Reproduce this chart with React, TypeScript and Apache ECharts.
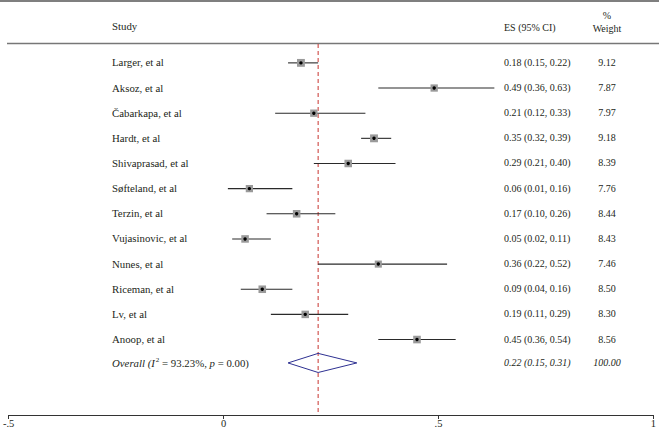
import React, { useEffect, useRef } from "react";
import * as echarts from "echarts";

const STUDIES = [
  "Larger, et al",
  "Aksoz, et al",
  "Čabarkapa, et al",
  "Hardt, et al",
  "Shivaprasad, et al",
  "Søfteland, et al",
  "Terzin, et al",
  "Vujasinovic, et al",
  "Nunes, et al",
  "Riceman, et al",
  "Lv, et al",
  "Anoop, et al",
];
const ES = [0.18, 0.49, 0.21, 0.35, 0.29, 0.06, 0.17, 0.05, 0.36, 0.09, 0.19, 0.45];
const LOW = [0.15, 0.36, 0.12, 0.32, 0.21, 0.01, 0.1, 0.02, 0.22, 0.04, 0.11, 0.36];
const HIGH = [0.22, 0.63, 0.33, 0.39, 0.4, 0.16, 0.26, 0.11, 0.52, 0.16, 0.29, 0.54];
const WEIGHT = [9.12, 7.87, 7.97, 9.18, 8.39, 7.76, 8.44, 8.43, 7.46, 8.5, 8.3, 8.56];

const OVERALL_ES = 0.22;
const OVERALL_LOW = 0.15;
const OVERALL_HIGH = 0.31;
const OVERALL_WEIGHT = "100.00";
const I2 = "93.23%";
const P_VALUE = "0.00";

const TICK_VALUES = [-0.5, 0, 0.5, 1];
const TICK_LABELS = ["-.5", "0", ".5", "1"];

const FONT = "'Liberation Serif', 'DejaVu Serif', serif";
const TEXT_COLOR = "#231f20";
const FS = 10;
const FS_NAME = 10.8;
const X_STUDY = 112;
const X_ES = 504;
const X_W = 607;
const OVERALL_ROW = 11.93;

const fmt = (v: number) => v.toFixed(2);

export default function App() {
  const ref = useRef<HTMLDivElement>(null);
  useEffect(() => {
    if (!ref.current) return;
    const chart = echarts.init(ref.current, null, { renderer: "svg" });
    const rows = ES.map((e, i) => [e, LOW[i], HIGH[i], WEIGHT[i], i]);
    const option: any = {
      animation: false,
      grid: { left: 7, right: 2, top: 0, bottom: 15, containLabel: false },
      xAxis: {
        type: "value",
        min: -0.5,
        max: 1,
        interval: 0.5,
        splitLine: { show: false },
        axisLine: { show: true, onZero: false, lineStyle: { color: "#333", width: 1 } },
        axisTick: { show: true, length: 4, lineStyle: { color: "#333" } },
        axisLabel: {
          fontFamily: FONT,
          fontSize: 10.5,
          color: TEXT_COLOR,
          margin: 3,
          formatter: (v: number) => {
            const k = TICK_VALUES.findIndex((t) => Math.abs(t - v) < 1e-9);
            return k >= 0 ? TICK_LABELS[k] : "";
          },
        },
      },
      yAxis: {
        type: "value",
        inverse: true,
        min: -2.5,
        max: 14,
        show: false,
      },
      graphic: [
        { type: "line", shape: { x1: 0, y1: 1, x2: 659, y2: 1 }, style: { stroke: "#555", lineWidth: 1.5 } },
        { type: "line", shape: { x1: 7, y1: 43.5, x2: 659, y2: 43.5 }, style: { stroke: "#777", lineWidth: 1.5 } },
        { type: "text", x: X_STUDY, y: 26, style: { text: "Study", font: `${FS_NAME}px ${FONT}`, fill: TEXT_COLOR, textVerticalAlign: "middle" } },
        { type: "text", x: X_ES, y: 27, style: { text: "ES (95% CI)", font: `${FS}px ${FONT}`, fill: TEXT_COLOR, textVerticalAlign: "middle" } },
        { type: "text", x: X_W, y: 15, style: { text: "%", font: `${FS}px ${FONT}`, fill: TEXT_COLOR, textAlign: "center", textVerticalAlign: "middle" } },
        { type: "text", x: X_W, y: 28, style: { text: "Weight", font: `${FS}px ${FONT}`, fill: TEXT_COLOR, textAlign: "center", textVerticalAlign: "middle" } },
      ],
      series: [
        {
          type: "custom",
          data: [[OVERALL_ES, -0.75, 14]],
          encode: { x: 0, y: [1, 2] },
          silent: true,
          z: 1,
          renderItem: (params: any, api: any) => {
            const a = api.coord([api.value(0), api.value(1)]);
            const b = api.coord([api.value(0), api.value(2)]);
            return {
              type: "line",
              shape: { x1: a[0], y1: a[1], x2: b[0], y2: b[1] },
              style: { stroke: "#c8332f", lineWidth: 1, lineDash: [4, 3] },
            };
          },
        },
        {
          type: "custom",
          data: rows,
          encode: { x: [0, 1, 2], y: 4 },
          silent: true,
          z: 2,
          renderItem: (params: any, api: any) => {
            const i = params.dataIndex;
            const r = api.value(4);
            const pe = api.coord([api.value(0), r]);
            const pl = api.coord([api.value(1), r]);
            const ph = api.coord([api.value(2), r]);
            const s = 2.6 * Math.sqrt(api.value(3));
            return {
              type: "group",
              children: [
                { type: "line", shape: { x1: pl[0], y1: pl[1], x2: ph[0], y2: ph[1] }, style: { stroke: "#2a2a2a", lineWidth: 1.1 } },
                { type: "rect", shape: { x: pe[0] - s / 2, y: pe[1] - s / 2, width: s, height: s }, style: { fill: "#9a9a9a" } },
                { type: "circle", shape: { cx: pe[0], cy: pe[1], r: 1.7 }, style: { fill: "#000" } },
                { type: "text", x: X_STUDY, y: pe[1] - 0.5, style: { text: STUDIES[i], font: `${FS_NAME}px ${FONT}`, fill: TEXT_COLOR, textVerticalAlign: "middle" } },
                { type: "text", x: X_ES, y: pe[1] - 0.5, style: { text: `${fmt(ES[i])} (${fmt(LOW[i])}, ${fmt(HIGH[i])})`, font: `${FS}px ${FONT}`, fill: TEXT_COLOR, textVerticalAlign: "middle" } },
                { type: "text", x: X_W, y: pe[1] - 0.5, style: { text: fmt(WEIGHT[i]), font: `${FS}px ${FONT}`, fill: TEXT_COLOR, textAlign: "center", textVerticalAlign: "middle" } },
              ],
            };
          },
        },
        {
          type: "custom",
          data: [[OVERALL_ES, OVERALL_LOW, OVERALL_HIGH, OVERALL_ROW]],
          encode: { x: [0, 1, 2], y: 3 },
          silent: true,
          z: 3,
          renderItem: (params: any, api: any) => {
            const r = api.value(3);
            const c = api.coord([api.value(0), r]);
            const l = api.coord([api.value(1), r]);
            const h = api.coord([api.value(2), r]);
            const top = api.coord([api.value(0), r - 0.38]);
            const bot = api.coord([api.value(0), r + 0.38]);
            return {
              type: "group",
              children: [
                {
                  type: "polygon",
                  shape: { points: [[l[0], l[1]], [top[0], top[1]], [h[0], h[1]], [bot[0], bot[1]]] },
                  style: { fill: "none", stroke: "#2e3192", lineWidth: 1 },
                },
                {
                  type: "text",
                  x: X_STUDY,
                  y: c[1],
                  style: {
                    text: `{it|Overall (I}{sup|2}{n| = ${I2}, }{it|p}{n| = ${P_VALUE})}`,
                    textVerticalAlign: "middle",
                    rich: {
                      it: { fontFamily: FONT, fontSize: FS_NAME, fontStyle: "italic", fill: TEXT_COLOR },
                      n: { fontFamily: FONT, fontSize: FS_NAME, fill: TEXT_COLOR },
                      sup: { fontFamily: FONT, fontSize: 7, fill: TEXT_COLOR, verticalAlign: "top", padding: [0, 0, 6, 1] },
                    },
                  },
                },
                { type: "text", x: X_ES, y: c[1], style: { text: `${fmt(OVERALL_ES)} (${fmt(OVERALL_LOW)}, ${fmt(OVERALL_HIGH)})`, font: `italic ${FS}px ${FONT}`, fill: TEXT_COLOR, textVerticalAlign: "middle" } },
                { type: "text", x: X_W, y: c[1], style: { text: OVERALL_WEIGHT, font: `italic ${FS}px ${FONT}`, fill: TEXT_COLOR, textAlign: "center", textVerticalAlign: "middle" } },
              ],
            };
          },
        },
      ],
    };
    chart.setOption(option);
    return () => chart.dispose();
  }, []);
  return <div ref={ref} style={{ width: 659, height: 430, position: "absolute", left: 0, top: 0 }} />;
}
